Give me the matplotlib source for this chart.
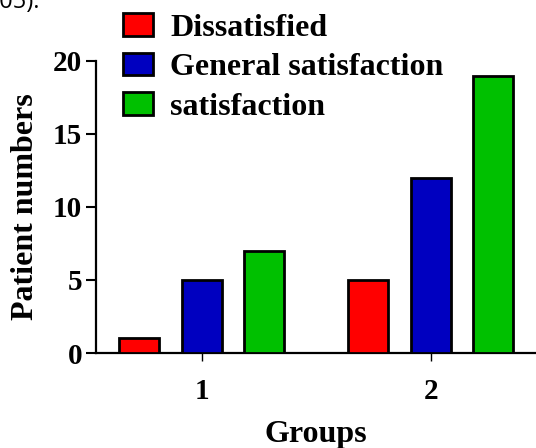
import numpy as np
import matplotlib
matplotlib.use('Agg')
import matplotlib.pyplot as plt

groups = ['1', '2']
series = ['Dissatisfied', 'General satisfaction', 'satisfaction']
dissatisfied = [1, 5]
general = [5, 12]
satisfied = [7, 19]
colors = ['#ff0000', '#0000c0', '#00c000']

plt.rcParams['font.family'] = ['Liberation Serif', 'DejaVu Serif']
plt.rcParams['font.weight'] = 'bold'

fig = plt.figure(figsize=(5.36, 4.48), dpi=100)
ax = fig.add_axes([0.179, 0.212, 0.821, 0.652])

x = np.arange(1, len(groups) + 1)
width = 0.175
offset = 0.273
for i, (vals, name) in enumerate(zip([dissatisfied, general, satisfied], series)):
    ax.bar(x + (i - 1) * offset, vals, width, color=colors[i],
           edgecolor='black', linewidth=2.0, label=name, zorder=3)

ax.set_xlim(0.537, 2.459)
ax.set_ylim(0, 20)
ax.set_yticks([0, 5, 10, 15, 20])
ax.set_xticks(x)
ax.set_xticklabels(groups)
ax.tick_params(axis='both', direction='out', length=7, width=1.5, labelsize=21, pad=3)
ax.tick_params(axis='x', length=6, width=1.0, pad=12)
for s in ('top', 'right'):
    ax.spines[s].set_visible(False)
for s in ('left', 'bottom'):
    ax.spines[s].set_linewidth(1.6)
ax.set_ylabel('Patient numbers', fontsize=23, fontweight='bold', labelpad=9)
ax.set_xlabel('Groups', fontsize=23, fontweight='bold', labelpad=11)

leg = fig.legend(loc='upper left', bbox_to_anchor=(0.175, 1.035), frameon=False,
                 fontsize=23, handlelength=0.94, handleheight=0.72,
                 labelspacing=0.31, handletextpad=0.56)
for h in leg.legend_handles:
    h.set_linewidth(2.0)

# caption fragment cut off at the top of the crop
fig.text(-0.012, 0.982, '.05).', fontsize=17, family='Open Sans',
         fontweight='normal', va='baseline')

fig.savefig('out.png', dpi=100)
